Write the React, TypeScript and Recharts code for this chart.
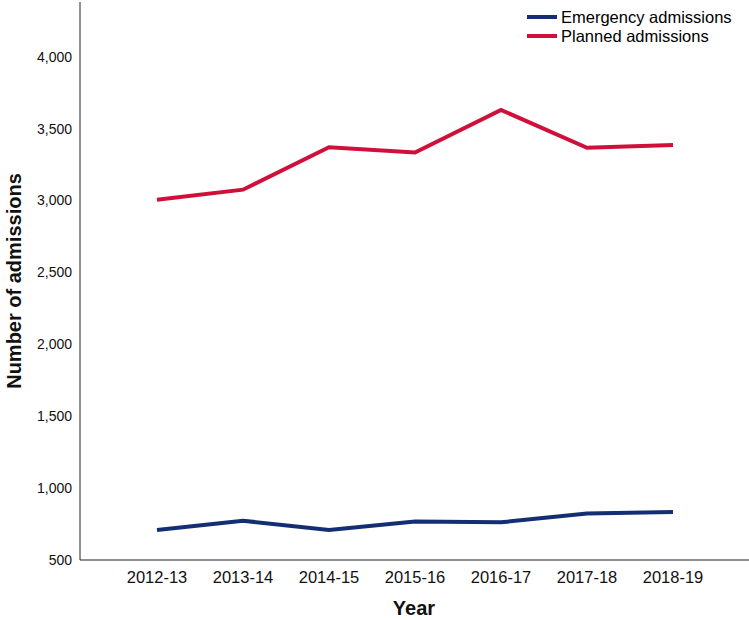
import React from "react";
import { LineChart, Line, XAxis, YAxis } from "recharts";

const years = ["2012-13", "2013-14", "2014-15", "2015-16", "2016-17", "2017-18", "2018-19"];
const emergency = [709, 773, 709, 767, 762, 824, 834];
const planned = [3005, 3075, 3370, 3333, 3630, 3366, 3385];
const yTicks = [500, 1000, 1500, 2000, 2500, 3000, 3500, 4000];

const EMERGENCY_COLOR = "#132E72";
const PLANNED_COLOR = "#D0103A";
const FONT = "Liberation Sans, Arial, sans-serif";

const data = years.map((y, i) => ({ year: y, emergency: emergency[i], planned: planned[i] }));

const fmt = (v: number) => v.toLocaleString("en-US");

const legendItems = [
  { name: "Emergency admissions", color: EMERGENCY_COLOR },
  { name: "Planned admissions", color: PLANNED_COLOR },
];

export default function App() {
  return (
    <div style={{ position: "absolute", left: 0, top: 0, width: 749, height: 620, background: "#fff", fontFamily: FONT }}>
      <LineChart width={749} height={620} data={data} margin={{ top: 2, right: 0, bottom: 0, left: 0 }}>
        <XAxis
          dataKey="year"
          padding={{ left: 77, right: 76 }}
          height={60}
          tickLine={false}
          axisLine={{ stroke: "#222" }}
          tick={{ fontSize: 16.5, fill: "#111", fontFamily: FONT }}
          tickMargin={5}
        />
        <YAxis
          width={80}
          domain={[500, 4380]}
          ticks={yTicks}
          tickFormatter={fmt}
          tickLine={false}
          axisLine={{ stroke: "#222" }}
          tick={{ fontSize: 14, fill: "#111", fontFamily: FONT }}
          tickMargin={2}
        />
        <Line
          dataKey="emergency"
          name="Emergency admissions"
          stroke={EMERGENCY_COLOR}
          strokeWidth={4}
          dot={false}
          isAnimationActive={false}
        />
        <Line
          dataKey="planned"
          name="Planned admissions"
          stroke={PLANNED_COLOR}
          strokeWidth={4}
          dot={false}
          isAnimationActive={false}
        />
      </LineChart>
      <div style={{ position: "absolute", left: 527, top: 8, fontSize: 16.5, lineHeight: "18.5px", color: "#000" }}>
        {legendItems.map((it) => (
          <div key={it.name} style={{ display: "flex", alignItems: "center", whiteSpace: "nowrap" }}>
            <span style={{ display: "inline-block", width: 30, height: 4, background: it.color, marginRight: 4 }} />
            <span>{it.name}</span>
          </div>
        ))}
      </div>
      <div
        style={{
          position: "absolute",
          left: 314,
          top: 598,
          width: 200,
          height: 21,
          textAlign: "center",
          fontSize: 20,
          fontWeight: "bold",
          color: "#111",
          lineHeight: "21px",
        }}
      >
        Year
      </div>
      <div
        style={{
          position: "absolute",
          left: 14 - 150,
          top: 281 - 12,
          width: 300,
          height: 24,
          lineHeight: "24px",
          textAlign: "center",
          fontSize: 20,
          fontWeight: "bold",
          color: "#111",
          transform: "rotate(-90deg)",
          whiteSpace: "nowrap",
        }}
      >
        Number of admissions
      </div>
    </div>
  );
}
